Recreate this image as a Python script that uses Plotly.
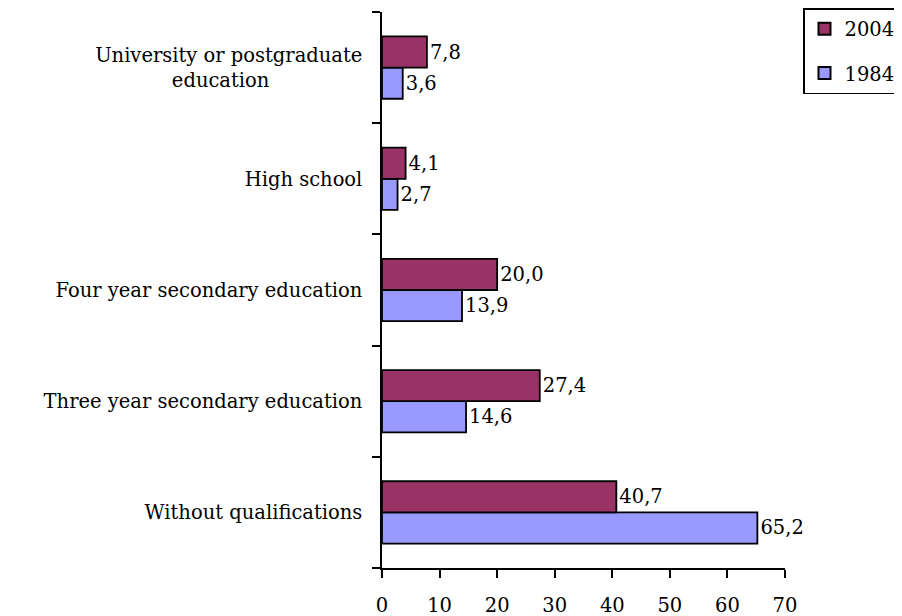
import plotly.graph_objects as go

categories = [
    "Without qualifications",
    "Three year secondary education",
    "Four year secondary education",
    "High school",
    "University or postgraduate<br>education" + "\u00a0" * 15,
]
values_2004 = [40.7, 27.4, 20.0, 4.1, 7.8]
values_1984 = [65.2, 14.6, 13.9, 2.7, 3.6]
x_ticks = [0, 10, 20, 30, 40, 50, 60, 70]

FONT = "DejaVu Serif"
FS = 19.5

fig = go.Figure()
fig.add_trace(go.Bar(
    y=categories, x=values_1984, name="1984", orientation="h", legendgroup="b",
    legendrank=2,
    marker=dict(color="#9999FF", line=dict(color="black", width=1.8)),
    texttemplate="%{x:.1f}", textposition="outside", cliponaxis=False,
    textfont=dict(family=FONT, size=FS, color="black"),
))
fig.add_trace(go.Bar(
    y=categories, x=values_2004, name="2004", orientation="h", legendgroup="a",
    legendrank=1,
    marker=dict(color="#993366", line=dict(color="black", width=1.8)),
    texttemplate="%{x:.1f}", textposition="outside", cliponaxis=False,
    textfont=dict(family=FONT, size=FS, color="black"),
))

fig.update_layout(
    width=902, height=616,
    margin=dict(l=374, r=125, t=4, b=56, autoexpand=False),
    barmode="group", bargap=0.44, bargroupgap=0,
    separators=",.",
    plot_bgcolor="white", paper_bgcolor="white",
    font=dict(family=FONT, size=FS, color="black"),
    showlegend=True,
    legend=dict(
        xref="container", yref="container",
        x=795 / 902, y=1, xanchor="left", yanchor="top",
        traceorder="grouped", bordercolor="black", borderwidth=1.5,
        font=dict(family=FONT, size=FS, color="black"),
        itemsizing="constant", tracegroupgap=16,
    ),
    xaxis=dict(
        range=[0, 70], tickvals=x_ticks, showgrid=False, zeroline=False,
        showline=True, linecolor="black", linewidth=1.5,
        ticks="outside", ticklen=8, tickcolor="black", tickwidth=1.5,
        ticklabelstandoff=11, automargin=False,
    ),
    yaxis=dict(
        showgrid=False, zeroline=False, showline=True, linecolor="black",
        linewidth=1.5, ticks="outside", ticklen=8, tickcolor="black",
        tickwidth=1.5, tickson="boundaries", ticklabelstandoff=14,
        automargin=False,
    ),
)

fig.write_html("out.html")
